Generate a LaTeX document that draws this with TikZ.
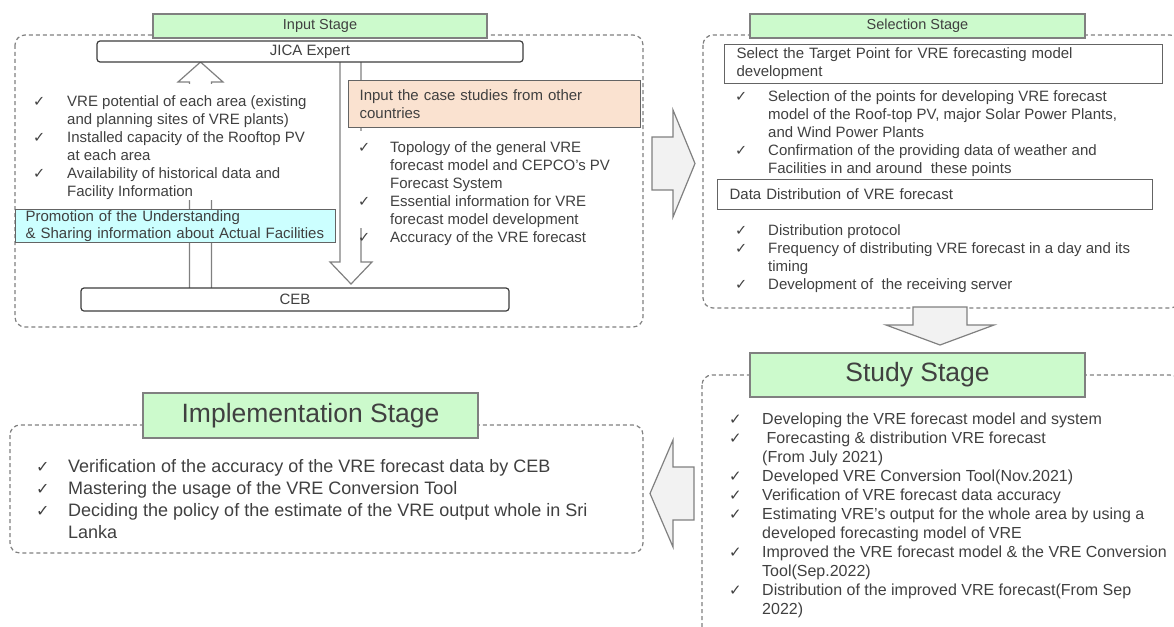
\documentclass[tikz,border=0pt]{standalone}
\usepackage{fontspec}
\setmainfont{Liberation Sans}
\newfontfamily\dejavu{DejaVu Sans}
\definecolor{txt}{RGB}{64,64,64}
\definecolor{bord}{RGB}{128,128,128}
\definecolor{mbord}{RGB}{100,100,100}
\definecolor{dbord}{RGB}{60,60,60}
\definecolor{stagegreen}{RGB}{204,250,204}
\definecolor{peach}{RGB}{250,226,208}
\definecolor{cyanbox}{RGB}{204,255,255}
\definecolor{arrowfill}{RGB}{242,242,242}
\newlength\ckw
\def\cks{14.5pt}
\newcommand\ck{\makebox[\ckw][l]{\dejavu\fontsize{\cks}{\cks}\selectfont ✓}}
\tikzset{
 panel/.style={draw=bord, line width=1.2pt, dash pattern=on 4pt off 3pt, rounded corners=10pt},
 stagebox/.style={draw=bord, line width=1.2pt, fill=stagegreen, text=txt, inner sep=0pt},
 rbox/.style={draw=dbord, line width=1.2pt, fill=white, rounded corners=3pt, text=txt, inner sep=0pt, font=\fontsize{15pt}{18pt}\selectfont},
 hbox/.style={draw=mbord, line width=1.2pt, text=txt, align=left, inner ysep=0pt, font=\fontsize{15pt}{18pt}\selectfont},
 lst/.style={anchor=north west, inner sep=0pt, text=txt},
 harrow/.style={draw=bord, line width=1.2pt, fill=white, line join=miter},
 barrow/.style={draw=bord, line width=1.2pt, fill=arrowfill, line join=miter},
}
\begin{document}
\begin{tikzpicture}[x=1pt,y=-1pt]
\useasboundingbox (0,0) rectangle (1174,626);
% panels
\draw[panel] (15,35) rectangle (643,327);
\draw[panel] (703,35) rectangle (1180,308);
\draw[panel] (702,375) rectangle (1180,640);
\draw[panel] (10,425) rectangle (643,553);
% block arrows between panels
\draw[barrow] (652,137) -- (673,137) -- (673,110) -- (695,163.5) -- (673,217) -- (673,190) -- (652,190) -- cycle;
\draw[barrow] (913,307) -- (967,307) -- (967,325) -- (994,325) -- (940,345) -- (886,325) -- (913,325) -- cycle;
\draw[barrow] (694,467) -- (694,520) -- (673,520) -- (673,547) -- (650,493.5) -- (673,440) -- (673,467) -- cycle;
% input stage hollow arrows
\draw[harrow] (189.5,288) -- (189.5,82) -- (178,82) -- (200.5,62) -- (223,82) -- (211.5,82) -- (211.5,288);
\draw[harrow] (340,62) -- (340,262) -- (330,262) -- (351,284) -- (372,262) -- (361,262) -- (361,62);
\fill[white] (25,84) rectangle (330,200);
\fill[white] (345,131) rectangle (638,228);
% input stage texts
\node[lst, font=\fontsize{15pt}{18pt}\selectfont] (inl) at (33,93.8) {\setlength\ckw{34pt}\begin{tabular}{@{}l@{}l@{}}
\ck & VRE potential of each area (existing\\
 & and planning sites of VRE plants)\\
\ck & Installed capacity of the Rooftop PV\\
 & at each area\\
\ck & Availability of historical data and\\
 & Facility Information
\end{tabular}};
\node[hbox, fill=peach, minimum width=292pt, minimum height=47pt, text width=270pt, inner xsep=11pt, anchor=north west] (case) at (348,80) {Input the case studies from other\\countries};
\node[lst, font=\fontsize{15pt}{18pt}\selectfont] (inr) at (358,139.8) {\setlength\ckw{32pt}\begin{tabular}{@{}l@{}l@{}}
\ck & Topology of the general VRE\\
 & forecast model and CEPCO’s PV\\
 & Forecast System\\
\ck & Essential information for VRE\\
 & forecast model development\\
\ck & Accuracy of the VRE forecast
\end{tabular}};
\node[hbox, fill=cyanbox, minimum width=320pt, minimum height=33pt, text width=300pt, inner xsep=10pt, anchor=north west, font=\fontsize{15pt}{17pt}\selectfont] (prom) at (15,209) {Promotion of the Understanding\\\& Sharing information about Actual Facilities};
\node[rbox, minimum width=426pt, minimum height=21pt] (jica) at (310,51.5) {JICA Expert};
\node[rbox, minimum width=428pt, minimum height=23pt] (ceb) at (295,299.5) {CEB};
\node[stagebox, minimum width=334pt, minimum height=24pt, font=\fontsize{14.5pt}{17pt}\selectfont] (inp) at (320,26) {Input Stage};
% selection stage
\node[stagebox, minimum width=335pt, minimum height=24pt, font=\fontsize{14.5pt}{17pt}\selectfont] (sels) at (917.5,26) {Selection Stage};
\node[hbox, fill=white, minimum width=438pt, minimum height=39pt, text width=414pt, inner xsep=12pt, anchor=north west] (sel1) at (724,44) {Select the Target Point for VRE forecasting model\\development};
\node[lst, font=\fontsize{15pt}{18pt}\selectfont] (sl1) at (735,88.8) {\setlength\ckw{33pt}\begin{tabular}{@{}l@{}l@{}}
\ck & Selection of the points for developing VRE forecast\\
 & model of the Roof-top PV, major Solar Power Plants,\\
 & and Wind Power Plants\\
\ck & Confirmation of the providing data of weather and\\
 & Facilities in and around\ \ these points
\end{tabular}};
\node[hbox, fill=white, minimum width=435pt, minimum height=30pt, text width=411pt, inner xsep=12pt, anchor=north west] (sel2) at (717,179) {Data Distribution of VRE forecast};
\node[lst, font=\fontsize{15pt}{18pt}\selectfont] (sl2) at (735,222.8) {\setlength\ckw{33pt}\begin{tabular}{@{}l@{}l@{}}
\ck & Distribution protocol\\
\ck & Frequency of distributing VRE forecast in a day and its\\
 & timing\\
\ck & Development of\ \ the receiving server
\end{tabular}};
% study stage
\node[stagebox, minimum width=335pt, minimum height=44pt, font=\fontsize{26.5pt}{30pt}\selectfont] (stu) at (917.5,375) {Study Stage};
\node[lst, font=\fontsize{16pt}{19pt}\selectfont] (stl) at (729,410.5) {\setlength\ckw{33pt}\def\cks{15pt}\begin{tabular}{@{}l@{}l@{}}
\ck & Developing the VRE forecast model and system\\
\ck & \ Forecasting \& distribution VRE forecast\\
 & (From July 2021)\\
\ck & Developed VRE Conversion Tool(Nov.2021)\\
\ck & Verification of VRE forecast data accuracy\\
\ck & Estimating VRE’s output for the whole area by using a\\
 & developed forecasting model of VRE\\
\ck & Improved the VRE forecast model \& the VRE Conversion\\
 & Tool(Sep.2022)\\
\ck & Distribution of the improved VRE forecast(From Sep\\
 & 2022)
\end{tabular}};
% implementation stage
\node[stagebox, minimum width=335pt, minimum height=45pt, font=\fontsize{26.5pt}{30pt}\selectfont] (imp) at (310.5,415.5) {Implementation Stage};
\node[lst, font=\fontsize{18pt}{22pt}\selectfont] (iml) at (36,457.1) {\setlength\ckw{32pt}\def\cks{16pt}\begin{tabular}{@{}l@{}l@{}}
\ck & Verification of the accuracy of the VRE forecast data by CEB\\
\ck & Mastering the usage of the VRE Conversion Tool\\
\ck & Deciding the policy of the estimate of the VRE output whole in Sri\\
 & Lanka
\end{tabular}};
\end{tikzpicture}
\end{document}
